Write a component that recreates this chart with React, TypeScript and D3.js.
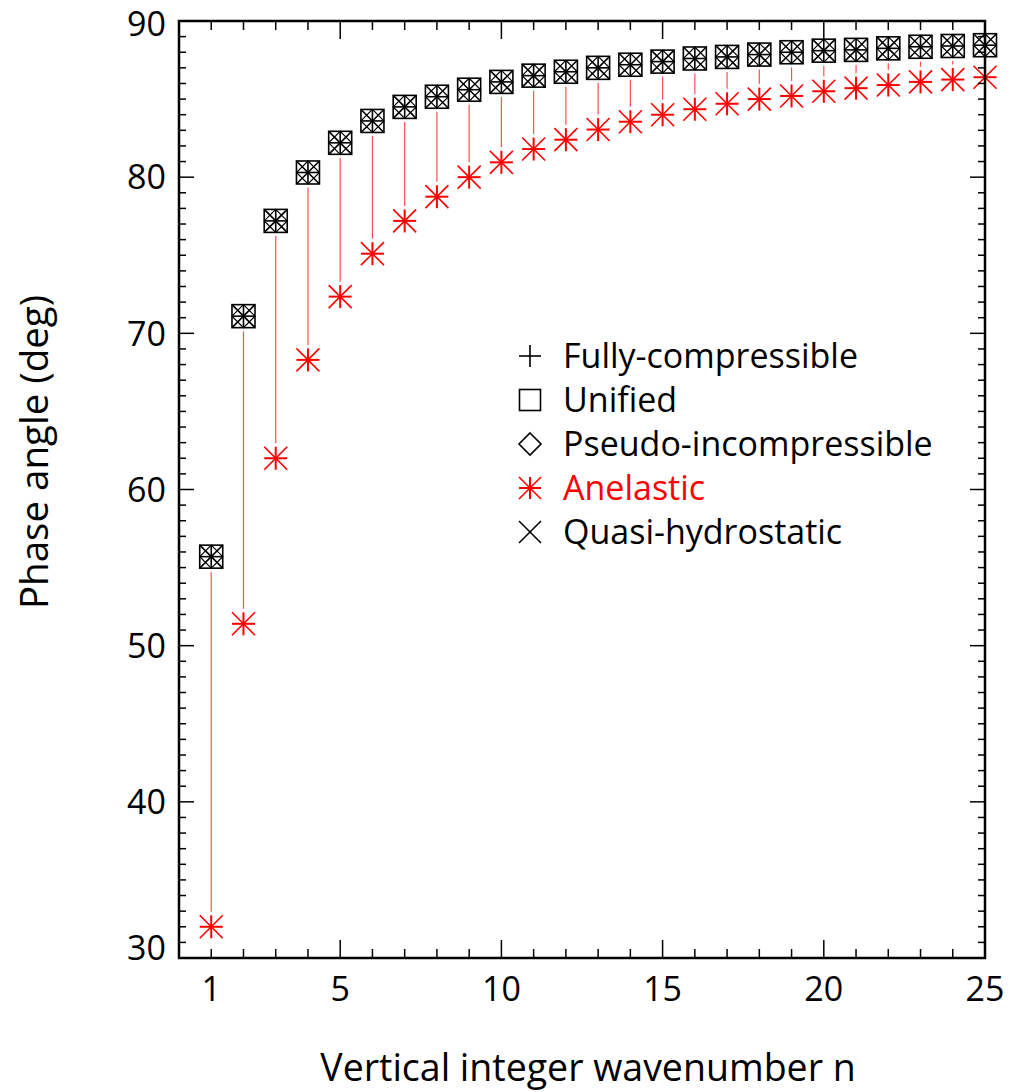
import React from "react";
import * as d3 from "d3";

const wavenumbers = d3.range(1, 26);
const compressibleAngle = [55.7, 71.1, 77.2, 80.3, 82.2, 83.6, 84.5, 85.15, 85.6, 86.1, 86.5, 86.75, 87.0, 87.2, 87.4, 87.6, 87.7, 87.85, 88.0, 88.1, 88.15, 88.25, 88.35, 88.4, 88.45];
const anelasticAngle = [32.0, 51.4, 62.0, 68.3, 72.35, 75.1, 77.2, 78.75, 80.0, 80.95, 81.8, 82.4, 83.05, 83.55, 84.0, 84.35, 84.7, 85.0, 85.2, 85.5, 85.7, 85.9, 86.1, 86.25, 86.4];
const xTickLabels = [1, 5, 10, 15, 20, 25];
const yTickLabels = [30, 40, 50, 60, 70, 80, 90];
const legendItems = [
  { label: "Fully-compressible", symbol: "plus", color: "#000" },
  { label: "Unified", symbol: "square", color: "#000" },
  { label: "Pseudo-incompressible", symbol: "diamond", color: "#000" },
  { label: "Anelastic", symbol: "asterisk", color: "#ff0000" },
  { label: "Quasi-hydrostatic", symbol: "cross", color: "#000" },
];

const FONT = "'Open Sans', 'Noto Sans', sans-serif";
const L = 179, R = 985, T = 21, B = 958;

function Marker({ type, cx, cy, s, color }: { type: string; cx: number; cy: number; s: number; color: string }) {
  const sw = 1.6;
  const parts: JSX.Element[] = [];
  if (type === "plus" || type === "asterisk" || type === "combo") {
    parts.push(<line key="h" x1={cx - s} y1={cy} x2={cx + s} y2={cy} stroke={color} strokeWidth={type === "asterisk" ? 2 : sw} />);
    parts.push(<line key="v" x1={cx} y1={cy - s} x2={cx} y2={cy + s} stroke={color} strokeWidth={type === "asterisk" ? 2 : sw} />);
  }
  if (type === "cross" || type === "asterisk" || type === "combo") {
    parts.push(<line key="d1" x1={cx - s} y1={cy - s} x2={cx + s} y2={cy + s} stroke={color} strokeWidth={sw} />);
    parts.push(<line key="d2" x1={cx - s} y1={cy + s} x2={cx + s} y2={cy - s} stroke={color} strokeWidth={sw} />);
  }
  if (type === "square" || type === "combo") {
    parts.push(<rect key="sq" x={cx - s} y={cy - s} width={2 * s} height={2 * s} fill="none" stroke={color} strokeWidth={sw} />);
  }
  if (type === "diamond" || type === "combo") {
    parts.push(<path key="dm" d={`M${cx},${cy - s}L${cx + s},${cy}L${cx},${cy + s}L${cx - s},${cy}Z`} fill="none" stroke={color} strokeWidth={type === "combo" ? 1.2 : sw} />);
  }
  return <g>{parts}</g>;
}

export default function App() {
  const x = d3.scaleLinear().domain([0, 25]).range([L, R]);
  const y = d3.scaleLinear().domain([30, 90]).range([B, T]);
  const xMinor = d3.range(1, 25);
  const yMinor = d3.range(31, 90);
  const ms = 11.5;
  const gap = 15;

  return (
    <svg width={1011} height={1092} style={{ display: "block", position: "absolute", left: 0, top: 0 }} fontFamily={FONT}>
      <rect x={0} y={0} width={1011} height={1092} fill="#fff" />
      {wavenumbers.map((n, i) => {
        const y1 = y(compressibleAngle[i]) + gap;
        const y2 = y(anelasticAngle[i]) - gap;
        if (y2 <= y1) return null;
        return <line key={"c" + n} x1={x(n)} x2={x(n)} y1={y1} y2={y2} stroke="#ff5050" strokeWidth={1.2} />;
      })}
      {wavenumbers.map((n, i) => (
        <Marker key={"m" + n} type="combo" cx={x(n)} cy={y(compressibleAngle[i])} s={ms} color="#000" />
      ))}
      {wavenumbers.map((n, i) => (
        <Marker key={"a" + n} type="asterisk" cx={x(n)} cy={y(anelasticAngle[i])} s={ms} color="#ff0000" />
      ))}
      {xMinor.map((v) => {
        const major = v % 5 === 0;
        const len = major ? 18 : 9;
        return (
          <g key={"xt" + v}>
            <line x1={x(v)} x2={x(v)} y1={B} y2={B - len} stroke="#000" strokeWidth={1.5} />
            <line x1={x(v)} x2={x(v)} y1={T} y2={T + len} stroke="#000" strokeWidth={1.5} />
          </g>
        );
      })}
      {yMinor.map((v) => {
        const major = v % 10 === 0;
        const len = major ? 15 : 7;
        return (
          <g key={"yt" + v}>
            <line x1={L} x2={L + len} y1={y(v)} y2={y(v)} stroke="#000" strokeWidth={1.5} />
            <line x1={R} x2={R - len} y1={y(v)} y2={y(v)} stroke="#000" strokeWidth={1.5} />
          </g>
        );
      })}
      <rect x={L} y={T} width={R - L} height={B - T} fill="none" stroke="#000" strokeWidth={2.5} />
      {xTickLabels.map((v) => (
        <text key={"xl" + v} x={x(v)} y={1001} textAnchor="middle" fontSize={34} fill="#000">{v}</text>
      ))}
      {yTickLabels.map((v) => (
        <text key={"yl" + v} x={166} y={y(v) + (v === 30 ? -10 : v === 90 ? 3 : 0)} dy="0.36em" textAnchor="end" fontSize={34} fill="#000">{v}</text>
      ))}
      <text x={588} y={1081} textAnchor="middle" fontSize={37.5} fill="#000">Vertical integer wavenumber n</text>
      <text transform={`translate(48,452) rotate(-90)`} textAnchor="middle" fontSize={38.5} fill="#000">Phase angle (deg)</text>
      {legendItems.map((d, i) => {
        const cy = 356 + i * 44;
        return (
          <g key={"lg" + i}>
            <Marker type={d.symbol} cx={530} cy={cy} s={d.symbol === "square" ? 10.5 : 11} color={d.color} />
            <text x={563} y={cy} dy="0.36em" fontSize={34} fill={d.color}>{d.label}</text>
          </g>
        );
      })}
    </svg>
  );
}
